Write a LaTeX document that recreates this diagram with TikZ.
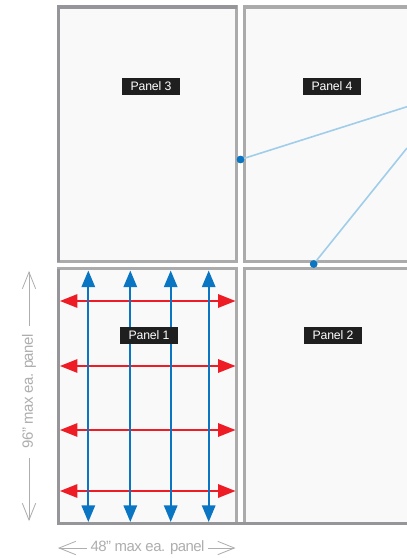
\documentclass[tikz,border=0pt]{standalone}
\usepackage{fontspec}
\setmainfont{Liberation Sans}
\newfontfamily\tightfont[LetterSpace=-3.5]{Liberation Sans}
\newfontfamily\tagfont[LetterSpace=-1.5]{Liberation Sans}
\usetikzlibrary{arrows.meta}
\definecolor{framegray}{HTML}{ABABAB}
\definecolor{framedark}{HTML}{96969A}
\definecolor{panelbg}{HTML}{F9F9F9}
\definecolor{dimgray}{HTML}{AEAEAE}
\definecolor{blueA}{HTML}{0A75C2}
\definecolor{blueL}{HTML}{A0CDE9}
\definecolor{redA}{HTML}{EE1C25}
\tikzset{
  x=0.75pt,y=-0.75pt,
  panel/.style={draw=framegray,line width=2.5pt,fill=panelbg},
  tagbox/.style={fill=black!88,text=white,font=\tagfont\fontsize{9.2pt}{10pt}\selectfont,inner sep=0pt,minimum width=43.5pt,minimum height=12.75pt,anchor=center},
  redarrow/.style={draw=redA,line width=1.4pt,{Triangle[length=13pt,width=10pt]}-{Triangle[length=13pt,width=10pt]}},
  bluearrow/.style={draw=blueA,fill=blueA,line width=1.6pt,{Triangle[length=12.5pt,width=10pt]}-{Triangle[length=12.5pt,width=10pt]}},
  lightline/.style={draw=blueL,line width=1.2pt},
  dotmark/.style={circle,fill=blueA,inner sep=0pt,minimum size=5.6pt},
  dimarrow/.style={draw=dimgray,line width=0.6pt,-{Straight Barb[length=12.5pt,width=10pt]}},
  dimtext/.style={text=dimgray,font=\tightfont\fontsize{11.2pt}{12pt}\selectfont,inner sep=0pt}
}
\begin{document}
\begin{tikzpicture}
\useasboundingbox (0,0) rectangle (407,558);
\clip (0,0) rectangle (407,558);
\fill[white] (0,0) rectangle (407,558);
% panels
\draw[panel] (58.5,7) rectangle (236.7,261.7);
\draw[panel] (244.3,7) rectangle (430,261.7);
\draw[panel] (58.5,268.7) rectangle (236.7,523.5);
\draw[panel] (244.3,268.7) rectangle (430,523.5);
\draw[draw=framedark,line width=2.5pt] (58.5,268.7) -- (58.5,523.5) -- (407,523.5);
\draw[draw=framedark,line width=2.5pt] (58.5,261.7) -- (58.5,7) -- (236.7,7);
% light lines and dots
\coordinate (e1) at (407,106.7);
\coordinate (e2) at (407,148);
\node[dotmark] (d1) at (240.5,159.5) {};
\node[dotmark] (d2) at (313.7,264) {};
\draw[lightline] (d1.center) -- (e1);
\draw[lightline] (d2.center) -- (e2);
\node[dotmark] at (d1) {};
\node[dotmark] at (d2) {};
% red
\foreach \n/\y in {a/301,b/366,c/430,d/491}{
  \coordinate (rl\n) at (60,\y);
  \coordinate (rr\n) at (235.5,\y);
  \draw[redarrow] (rl\n) -- (rr\n);
}
% blue
\foreach \n/\x in {a/88.3,b/130.3,c/170.7,d/208.7}{
  \coordinate (bt\n) at (\x,270.5);
  \coordinate (bb\n) at (\x,522);
  \draw[bluearrow] (bt\n) -- (bb\n);
}
% tags
\node[tagbox] (p3) at (151,86.5) {Panel 3};
\node[tagbox] (p4) at (332,86.5) {Panel 4};
\node[tagbox] (p1) at (149,335.5) {Panel 1};
\node[tagbox] (p2) at (333,335.5) {Panel 2};
% dimension labels
\node[dimtext,rotate=90] (vt) at (29,391.5) {96” max ea. panel};
\coordinate (vu) at (29,271);
\coordinate (vd) at (29,521);
\coordinate (vus) at (29,326);
\coordinate (vds) at (29,458);
\draw[dimarrow] (vus) -- (vu);
\draw[dimarrow] (vds) -- (vd);
\node[dimtext] (ht) at (147.5,548) {48” max ea. panel};
\coordinate (hl) at (58,548);
\coordinate (hr) at (235.5,548);
\coordinate (hls) at (87,548);
\coordinate (hrs) at (208,548);
\draw[dimarrow] (hls) -- (hl);
\draw[dimarrow] (hrs) -- (hr);
\end{tikzpicture}
\end{document}
